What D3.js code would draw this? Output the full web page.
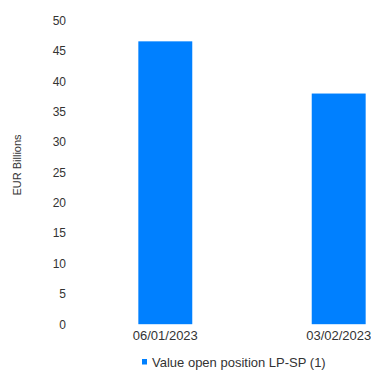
<!DOCTYPE html>
<html><head><meta charset="utf-8">
<script src="https://cdn.jsdelivr.net/npm/d3@7"></script>
<style>body{margin:0;background:#fff}text{font-family:"Liberation Sans",Arial,sans-serif}</style>
</head><body><svg id="c" width="371" height="372"></svg>
<script>
const categories = ["06/01/2023", "03/02/2023"];
const values = [46.6, 38.0];
const yTicks = [0, 5, 10, 15, 20, 25, 30, 35, 40, 45, 50];
const seriesName = "Value open position LP-SP (1)";
const yTitle = "EUR Billions";

const svg = d3.select("#c");
const color = "#0080ff";
const y = d3.scaleLinear().domain([0, 50]).range([324.2, 20.7]);
const x = d3.scaleBand().domain(categories).range([78.6, 425.4]).paddingInner(0.689).paddingOuter(0.3445);

const yAxis = svg.append("g").attr("transform", "translate(70,0)")
  .call(d3.axisLeft(y).tickValues(yTicks).tickSize(0).tickPadding(4));
yAxis.select(".domain").remove();
yAxis.selectAll("text").attr("font-size", 12).attr("fill", "#333").attr("font-family", "Liberation Sans, Arial, sans-serif");

svg.selectAll("rect.bar").data(values).join("rect").attr("class", "bar")
  .attr("x", (d, i) => x(categories[i])).attr("width", x.bandwidth())
  .attr("y", d => y(d)).attr("height", d => y(0) - y(d)).attr("fill", color);

const xAxis = svg.append("g").attr("transform", "translate(0,328)")
  .call(d3.axisBottom(x).tickSize(0).tickPadding(3));
xAxis.select(".domain").remove();
xAxis.selectAll("text").attr("font-size", 13).attr("fill", "#333").attr("font-family", "Liberation Sans, Arial, sans-serif");

svg.append("text").attr("transform", "translate(21,165) rotate(-90)")
  .attr("text-anchor", "middle").attr("font-size", 11).attr("fill", "#333").text(yTitle);

const lg = svg.append("g").attr("transform", "translate(142,359)");
lg.append("rect").attr("width", 5).attr("height", 5.5).attr("fill", color);
lg.append("text").attr("x", 10).attr("y", 7.5).attr("font-size", 13).attr("fill", "#333").text(seriesName);
</script></body></html>
